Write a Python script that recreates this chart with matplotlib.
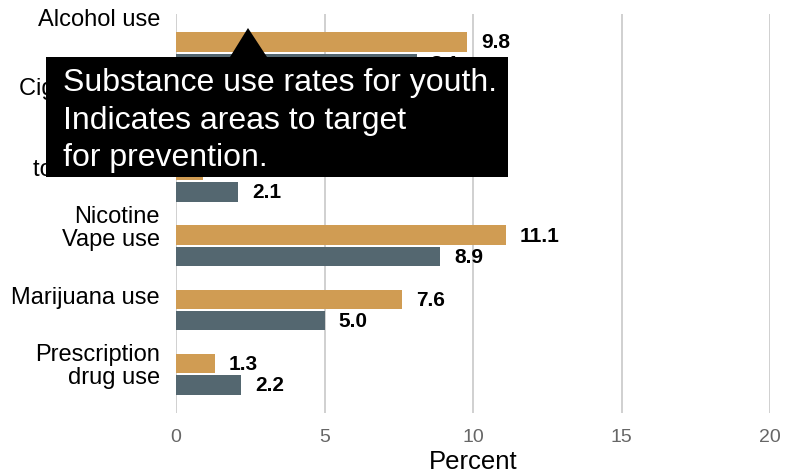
import numpy as np
import matplotlib
matplotlib.use("Agg")
import matplotlib.pyplot as plt
from matplotlib.patches import Rectangle, Polygon

plt.rcParams["font.family"] = ["Liberation Sans", "DejaVu Sans"]

# data (cigarette values are hidden behind the tooltip in the original -> guessed)
categories = ["Alcohol use", "Cigarette use", "Smokeless\ntobacco use",
              "Nicotine\nVape use", "Marijuana use", "Prescription\ndrug use"]
rate_a = [9.8, 1.5, 0.9, 11.1, 7.6, 1.3]
rate_b = [8.1, 1.0, 2.1, 8.9, 5.0, 2.2]
x_ticks = [0, 5, 10, 15, 20]

COL_A = "#D09C53"
COL_B = "#546770"

fig = plt.figure(figsize=(7.89, 4.77), dpi=100)
ax = fig.add_axes([0.2231, 0.1321, 0.7529, 0.8365])

y = np.arange(len(categories))
h = 0.30
off = 0.165
ax.barh(y - off, rate_a, height=h, color=COL_A, zorder=2)
ax.barh(y + off, rate_b, height=h, color=COL_B, zorder=2)

for yi, v in zip(y, rate_a):
    ax.annotate(f"{v:.1f}", (v, yi - off), xytext=(10, 0), textcoords="offset points",
                ha="left", va="center", fontsize=15, fontweight="bold", color="black")
for yi, v in zip(y, rate_b):
    ax.annotate(f"{v:.1f}", (v, yi + off), xytext=(10, 0), textcoords="offset points",
                ha="left", va="center", fontsize=15, fontweight="bold", color="black")

ax.set_xlim(0, 20)
ax.set_ylim(len(categories) - 0.4, -0.6)
ax.set_xticks(x_ticks)
ax.set_xticklabels([str(t) for t in x_ticks], fontsize=14, color="#666666")
ax.tick_params(axis="x", length=0, pad=11)
ax.set_yticks([])
ax.grid(axis="x", color="#C8C8C8", linewidth=1.2, zorder=0)
for s in ax.spines.values():
    s.set_visible(False)
ax.set_xlabel("Percent", fontsize=18.5, color="black", labelpad=3)

# category labels sit on their own even spacing, a bit above the bars
label_pos = np.linspace(0.9875, 0.118, len(categories))
for lab, yp in zip(categories, label_pos):
    ax.annotate(lab, (0, yp), xycoords="axes fraction", xytext=(-11.5, 0),
                textcoords="offset points", ha="right", va="center",
                multialignment="right", linespacing=1.05, fontsize=17, color="black")

# tooltip overlay
fig.patches.append(Rectangle((0.0583, 0.6268), 0.5856, 0.2516, transform=fig.transFigure,
                             facecolor="black", edgecolor="none", zorder=10))
fig.patches.append(Polygon([(0.2915, 0.8784), (0.3143, 0.9392), (0.3384, 0.8784)],
                           closed=True, transform=fig.transFigure,
                           facecolor="black", edgecolor="none", zorder=10))
fig.text(0.0798, 0.857, "Substance use rates for youth.\nIndicates areas to target\nfor prevention.",
         ha="left", va="top", fontsize=23, color="white", linespacing=1.32, zorder=11)

fig.savefig("out.png", dpi=100)
